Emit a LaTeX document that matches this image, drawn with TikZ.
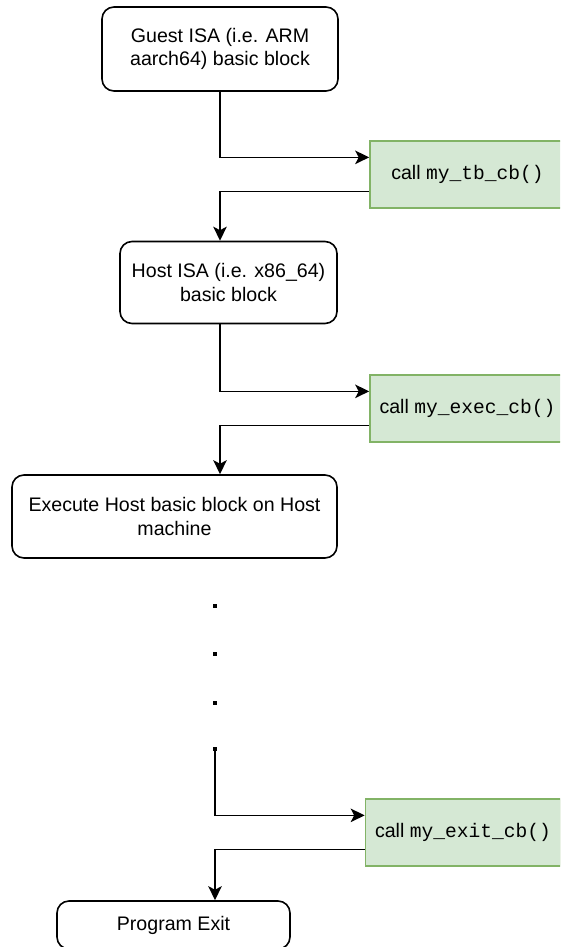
\documentclass[tikz,border=0pt]{standalone}
\usepackage{fontspec}
\setmainfont{Liberation Sans}
\setmonofont{Liberation Mono}
\usetikzlibrary{arrows.meta,calc}
\definecolor{callfill}{HTML}{D5E8D4}
\definecolor{callline}{HTML}{82B366}
\tikzset{
  stepbox/.style={draw=black, fill=white, line width=1.6pt, rounded corners=12pt,
    align=center, inner sep=0pt, font=\fontsize{19.6}{23.4}\selectfont},
  callbox/.style={draw=callline, fill=callfill, line width=1.6pt, align=center,
    inner sep=0pt, minimum height=67pt, minimum width=195pt,
    font=\fontsize{19.6}{23.4}\selectfont},
  flow/.style={line width=1.6pt, -{Stealth[length=14pt,width=13.5pt,inset=3.5pt]}},
  dotmark/.style={fill=black, minimum size=4pt, inner sep=0pt},
}
\begin{document}
\begin{tikzpicture}[x=1pt,y=-1pt]
\clip (0,0) rectangle (560,947);

% processing steps
\node[stepbox, minimum width=236pt, minimum height=84pt] (guest) at (220,49)
  {Guest ISA (i.e. ARM\\aarch64) basic block};
\node[stepbox, minimum width=217pt, minimum height=82pt] (host) at (228.5,282.5)
  {Host ISA (i.e. x86\_64)\\basic block};
\node[stepbox, minimum width=325pt, minimum height=83pt] (exec) at (174.5,516.5)
  {Execute Host basic block on Host\\machine};
\node[stepbox, minimum width=233pt, minimum height=48pt] (exit) at (173.5,925)
  {Program Exit};

% callbacks
\node[callbox] (g1) at (467.5,174.5) {call \texttt{my\_tb\_cb()}};
\node[callbox] (g2) at (467.5,408.5) {call \texttt{my\_exec\_cb()}};
\node[callbox] (g3) at (463,832.5) {call \texttt{my\_exit\_cb()}};

\foreach \g in {g1,g2,g3}{
  \coordinate (\g in)  at ($(\g.north west)!0.25!(\g.south west)$);
  \coordinate (\g out) at ($(\g.north west)!0.75!(\g.south west)$);
}

% elided steps
\node[dotmark] (d1) at (215,606) {};
\node[dotmark] (d2) at (215,654) {};
\node[dotmark] (d3) at (215,703) {};
\node[dotmark] (d4) at (215,749) {};

% connectors
\draw[flow] (guest.south) |- (g1in);
\draw[flow] (g1out) -| (guest.south |- host.north);
\draw[flow] (guest.south |- host.south) |- (g2in);
\draw[flow] (g2out) -| (guest.south |- exec.north);
\draw[flow] (d4.center) |- (g3in);
\draw[flow] (g3out) -| (d4.center |- exit.north);
\end{tikzpicture}
\end{document}
